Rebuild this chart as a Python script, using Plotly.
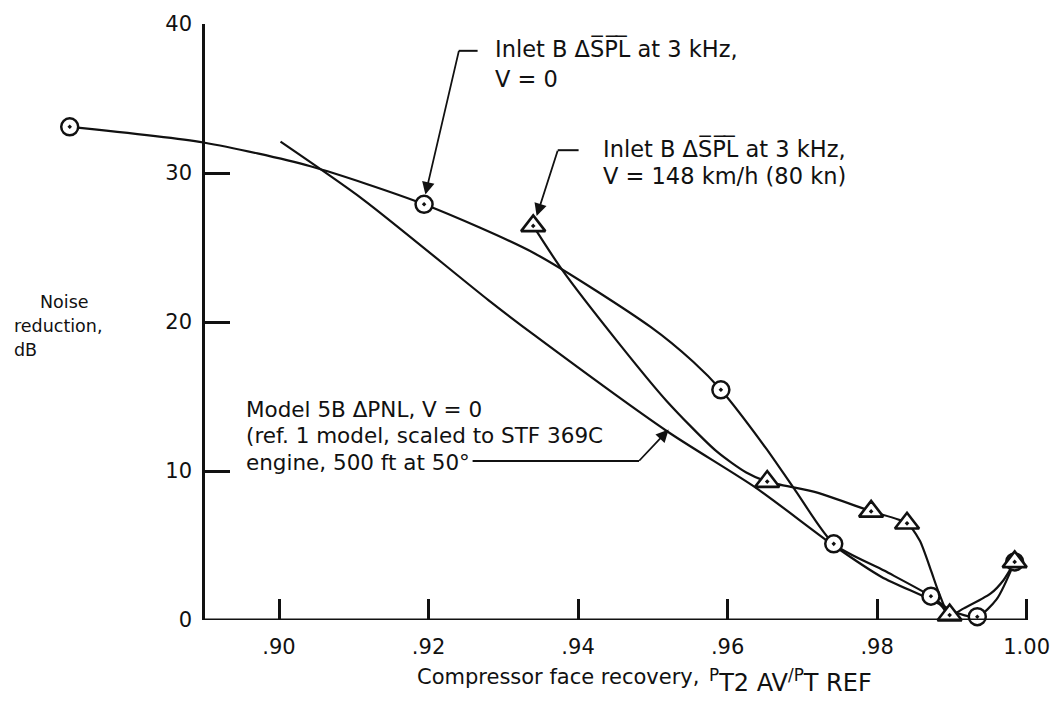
import plotly.graph_objects as go

# ---- data ----
# Inlet B dSPL at 3 kHz, V = 0 (circles)
circ_x = [0.8720, 0.9194, 0.9591, 0.9742, 0.9872, 0.9934, 0.9984]
circ_y = [33.1, 27.9, 15.45, 5.11, 1.6, 0.22, 3.9]
# faired curve through the circle data
circ_curve_x = [0.8720, 0.8899, 0.9042, 0.9194, 0.9342, 0.9497, 0.9554, 0.9591,
                0.9651, 0.9691, 0.9742, 0.9810, 0.9872, 0.9900, 0.9934, 0.9960, 0.9984]
circ_curve_y = [33.1, 32.05, 30.45, 27.9, 24.6, 19.67, 17.33, 15.45,
                11.55, 8.67, 5.11, 3.3, 1.6, 0.6, 0.22, 1.4, 3.9]

# Inlet B dSPL at 3 kHz, V = 148 km/h (triangles)
tri_x = [0.9340, 0.9653, 0.9792, 0.9840, 0.9897, 0.9984]
tri_y = [26.45, 9.29, 7.29, 6.49, 0.33, 3.9]
tri_curve_x = [0.9340, 0.9378, 0.9453, 0.9519, 0.9585, 0.9625, 0.9653, 0.9720,
               0.9792, 0.9840, 0.9857, 0.9872, 0.9883, 0.9897, 0.9916, 0.9952,
               0.9969, 0.9984]
tri_curve_y = [26.45, 23.55, 18.67, 14.67, 11.33, 9.9, 9.29, 8.55,
               7.29, 6.49, 5.33, 3.33, 1.78, 0.33, 0.78, 1.78,
               2.67, 3.9]

# Model 5B dPNL, V = 0
model_x = [0.9002, 0.9113, 0.9280, 0.9342, 0.9519, 0.9638, 0.9742, 0.9806, 0.9885, 0.9892]
model_y = [32.1, 28.2, 21.47, 19.1, 12.67, 8.87, 5.0, 2.89, 1.0, 0.55]

x_ticks = [0.90, 0.92, 0.94, 0.96, 0.98, 1.00]
x_tick_text = [".90", ".92", ".94", ".96", ".98", "1.00"]
y_ticks = [0, 10, 20, 30, 40]

FONT = "DejaVu Sans"
INK = "#111111"

fig = go.Figure()

line_style = dict(color=INK, width=2.2, shape="spline", smoothing=0.7)
fig.add_trace(go.Scatter(x=model_x, y=model_y, mode="lines", line=line_style,
                         hoverinfo="skip", showlegend=False))
fig.add_trace(go.Scatter(x=circ_curve_x, y=circ_curve_y, mode="lines", line=line_style,
                         hoverinfo="skip", showlegend=False))
fig.add_trace(go.Scatter(x=tri_curve_x, y=tri_curve_y, mode="lines", line=line_style,
                         hoverinfo="skip", showlegend=False))
fig.add_trace(go.Scatter(x=circ_x, y=circ_y, mode="markers", cliponaxis=False,
                         marker=dict(symbol="circle-dot", size=17, color="white",
                                     line=dict(color=INK, width=2.5)),
                         showlegend=False))
fig.add_trace(go.Scatter(x=tri_x, y=tri_y, mode="markers", cliponaxis=False,
                         marker=dict(symbol="triangle-up-dot", size=21, color="white",
                                     line=dict(color=INK, width=2.6)),
                         showlegend=False))

# x axis line (starts at the y axis)
fig.add_shape(type="line", x0=0.88987, x1=1.0, y0=0, y1=0, xref="x", yref="y",
              line=dict(color=INK, width=3))

# leader lines
fig.add_shape(type="line", x0=0.92404, x1=0.92656, y0=38.2, y1=38.2, line=dict(color=INK, width=2))
fig.add_shape(type="line", x0=0.93728, x1=0.94007, y0=31.53, y1=31.53, line=dict(color=INK, width=2))
fig.add_shape(type="line", x0=0.92589, x1=0.94815, y0=10.667, y1=10.667, line=dict(color=INK, width=2))

arrow = dict(showarrow=True, text="\u00a0", font=dict(size=1), borderpad=0,
             arrowhead=2, arrowsize=1.4, arrowwidth=1.8,
             arrowcolor=INK, axref="pixel", ayref="pixel", xref="x", yref="y")
fig.add_annotation(x=0.91958, y=28.55, ax=33.7, ay=-144.7, **arrow)
fig.add_annotation(x=0.93446, y=27.11, ax=21.3, ay=-66.3, **arrow)
fig.add_annotation(x=0.95212, y=12.78, ax=-30, ay=31.7, **arrow)

OL = "\u0305"
spl = "S" + OL + "P" + OL + "L" + OL


def px_x(p):
    return (p - 30) / 1020


def px_y(p):
    return (620 - p) / 600


def label(text, left, cy, size=22.5):
    fig.add_annotation(x=px_x(left), y=px_y(cy), text=text, showarrow=False,
                       xref="paper", yref="paper", xanchor="left", yanchor="middle",
                       align="left", font=dict(family=FONT, size=size, color=INK))


label("Inlet B \u0394" + spl + " at 3 kHz,", 498, 45)
label("V = 0", 498, 75)
label("Inlet B \u0394" + spl + " at 3 kHz,", 607, 145)
label("V = 148 km/h (80 kn)", 607, 173)
label("Model 5B \u0394PNL, V = 0", 246, 408, 21.5)
label("(ref. 1 model, scaled to STF 369C", 246, 434, 21.5)
label("engine, 500 ft at 50\u00b0", 246, 461, 21.5)

# axis titles
label("Compressor face recovery,", 419, 677, 21)
label("<sup>P</sup>T2 AV<sup>/P</sup>T REF", 714, 681, 24)
label("Noise", 38, 300, 17.5)
label("reduction,", 12, 324, 17.5)
label("dB", 12, 348, 17.5)

fig.update_layout(
    width=1062, height=701,
    margin=dict(l=30, r=12, t=20, b=81),
    paper_bgcolor="white", plot_bgcolor="white",
    font=dict(family=FONT, size=21, color=INK),
    showlegend=False,
    xaxis=dict(range=[0.866689, 1.001788], showgrid=False, zeroline=False, showline=False,
               tickvals=x_ticks, ticktext=x_tick_text, ticks="inside", ticklen=21,
               tickwidth=2.5, tickcolor=INK, ticklabelstandoff=12,
               tickfont=dict(family=FONT, size=21, color=INK)),
    yaxis=dict(range=[0, 40], showgrid=False, zeroline=False, showline=True,
               linecolor=INK, linewidth=3, anchor="free", position=(205 - 30) / 1020,
               tickvals=y_ticks, ticks="inside", ticklen=25, tickwidth=2.5, tickcolor=INK,
               ticklabelstandoff=6,
               tickfont=dict(family=FONT, size=21, color=INK)),
)

fig.write_html("out.html")
